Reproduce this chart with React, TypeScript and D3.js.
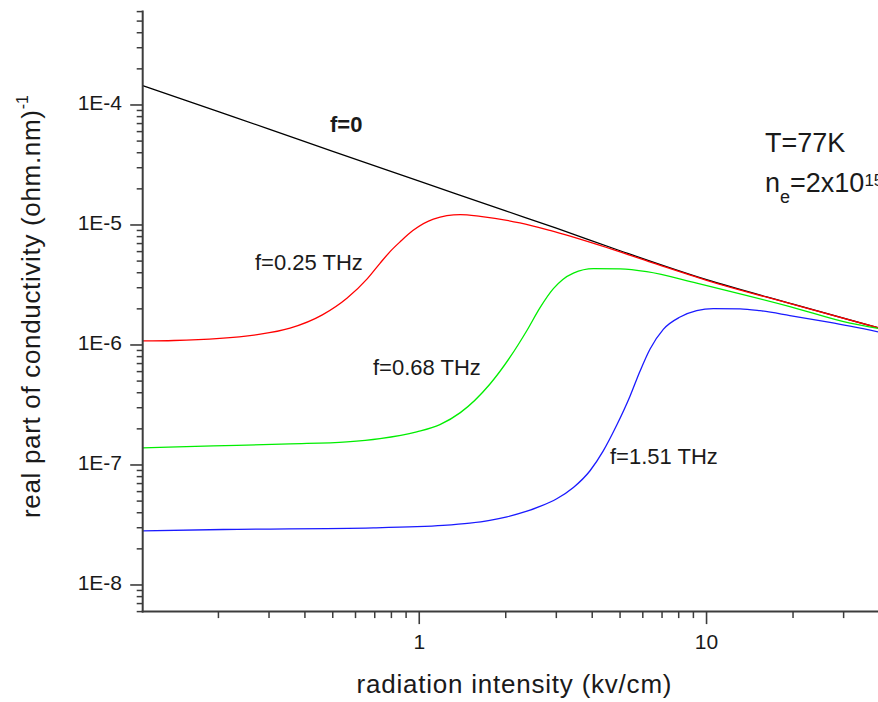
import React from "react";
import * as d3 from "d3";

// ---- data ----
const xF0 = [0.109, 0.2, 0.3, 0.5, 1, 2, 3, 5, 10, 20, 40];
const yF0 = [1.45e-4, 8.8e-5, 6.3e-5, 4.1e-5, 2.32e-5, 1.31e-5, 9.4e-6, 6.1e-6, 3.5e-6, 2.19e-6, 1.38e-6];

const xF025 = [0.109, 0.14, 0.28, 0.355, 0.46, 0.56, 0.66, 0.73, 0.79, 0.86, 0.95, 1.12, 1.39, 1.63, 2.24, 2.85, 4.26, 6.5, 10, 20, 40];
const yF025 = [1.08e-6, 1.09e-6, 1.23e-6, 1.38e-6, 1.78e-6, 2.45e-6, 3.57e-6, 4.79e-6, 5.97e-6, 7.28e-6, 8.98e-6, 1.12e-5, 1.22e-5, 1.18e-5, 1.04e-5, 9.0e-6, 6.75e-6, 4.83e-6, 3.46e-6, 2.18e-6, 1.38e-6];

const xF068 = [0.109, 0.192, 0.355, 0.56, 0.73, 0.98, 1.18, 1.39, 1.76, 2.07, 2.37, 2.63, 2.93, 3.16, 3.44, 4.04, 5.0, 6.19, 9.24, 12.07, 19.5, 31.6, 40];
const yF068 = [1.39e-7, 1.44e-7, 1.5e-7, 1.56e-7, 1.66e-7, 1.89e-7, 2.17e-7, 2.73e-7, 4.71e-7, 7.91e-7, 1.32e-6, 2.04e-6, 2.95e-6, 3.52e-6, 3.97e-6, 4.33e-6, 4.3e-6, 4.08e-6, 3.27e-6, 2.8e-6, 2.09e-6, 1.52e-6, 1.37e-6];

const xF151 = [0.109, 0.208, 0.692, 0.98, 1.21, 1.5, 1.76, 2.02, 2.37, 2.63, 3.01, 3.44, 3.93, 4.37, 4.87, 5.41, 5.86, 6.36, 7.07, 8.09, 9.24, 10.56, 13.08, 15.35, 19.5, 26.9, 40];
const yF151 = [2.82e-8, 2.9e-8, 2.99e-8, 3.06e-8, 3.14e-8, 3.28e-8, 3.46e-8, 3.7e-8, 4.12e-8, 4.51e-8, 5.23e-8, 6.49e-8, 8.95e-8, 1.31e-7, 2.15e-7, 3.72e-7, 6.01e-7, 9.26e-7, 1.35e-6, 1.71e-6, 1.93e-6, 2.01e-6, 2.0e-6, 1.93e-6, 1.76e-6, 1.54e-6, 1.28e-6];

const seriesNames = ["f=0", "f=0.25 THz", "f=0.68 THz", "f=1.51 THz"];
const seriesColors = ["#000000", "#ff0000", "#00ee00", "#1a1aff"];

const yMajorTicks = [1e-8, 1e-7, 1e-6, 1e-5, 1e-4];
const yTickLabels = ["1E-8", "1E-7", "1E-6", "1E-5", "1E-4"];
const xMajorTicks = [1, 10];
const xTickLabels = ["1", "10"];

const FONT = "'Liberation Sans', Arial, Helvetica, sans-serif";

export default function App() {
  const W = 878;
  const H = 702;
  const left = 142.7;
  const top = 11.6;
  const bottom = 611.6;
  const decX = 287.3;
  const xDomain: [number, number] = [0.109, 40];
  const x = d3
    .scaleLog()
    .domain(xDomain)
    .range([left, left + decX * Math.log10(xDomain[1] / xDomain[0])]);
  const y = d3.scaleLog().domain([6e-9, 6e-4]).range([bottom, top]);

  const yMinor: number[] = [];
  for (let e = -9; e <= -4; e++) {
    for (let m = 2; m <= 9; m++) {
      const v = m * Math.pow(10, e);
      if (v >= 5.99e-9 && v <= 6.01e-4) yMinor.push(v);
    }
  }
  const xMinor: number[] = [];
  for (let e = -1; e <= 1; e++) {
    for (let m = 2; m <= 9; m++) {
      const v = m * Math.pow(10, e);
      if (v >= xDomain[0] && x(v) <= W) xMinor.push(v);
    }
  }

  const line = d3
    .line<[number, number]>()
    .x((d) => x(d[0]))
    .y((d) => y(d[1]))
    .curve(d3.curveMonotoneX);

  const series = [
    [xF0, yF0],
    [xF025, yF025],
    [xF068, yF068],
    [xF151, yF151],
  ].map(([xs, ys]) => xs.map((v, i) => [v, ys[i]] as [number, number]));

  const axisColor = "#3c3c3c";
  const textColor = "#1a1a1a";

  return (
    <svg
      width={W}
      height={H}
      style={{ position: "absolute", left: 0, top: 0, background: "#fff" }}
      fontFamily={FONT}
    >
      <defs>
        <clipPath id="plotClip">
          <rect x={left} y={0} width={W - left} height={bottom} />
        </clipPath>
      </defs>
      <rect x={0} y={0} width={W} height={H} fill="#fff" />

      {/* curves */}
      <g clipPath="url(#plotClip)" fill="none" strokeWidth={1.3}>
        {series.map((pts, i) => (
          <path key={seriesNames[i]} d={line(pts) || ""} stroke={seriesColors[i]} />
        ))}
      </g>

      {/* Y axis */}
      <line x1={left} x2={left} y1={top - 1} y2={bottom + 1} stroke={axisColor} strokeWidth={2} />
      {yMajorTicks.map((t, i) => (
        <g key={"ym" + i}>
          <line x1={left - 12.5} x2={left} y1={y(t)} y2={y(t)} stroke={axisColor} strokeWidth={1.6} />
          <text x={122} y={y(t) + 5.5} textAnchor="end" fontSize={21} fill={textColor}>
            {yTickLabels[i]}
          </text>
        </g>
      ))}
      {yMinor.map((t, i) => (
        <line key={"yn" + i} x1={left - 6} x2={left} y1={y(t)} y2={y(t)} stroke={axisColor} strokeWidth={1.5} />
      ))}

      {/* X axis */}
      <line x1={left - 1} x2={W} y1={bottom} y2={bottom} stroke={axisColor} strokeWidth={2} />
      {xMajorTicks.map((t, i) => (
        <g key={"xm" + i}>
          <line x1={x(t)} x2={x(t)} y1={bottom} y2={bottom + 12.5} stroke={axisColor} strokeWidth={1.6} />
          <text x={x(t)} y={648.5} textAnchor="middle" fontSize={21} fill={textColor}>
            {xTickLabels[i]}
          </text>
        </g>
      ))}
      {xMinor.map((t, i) => (
        <line key={"xn" + i} x1={x(t)} x2={x(t)} y1={bottom} y2={bottom + 6.5} stroke={axisColor} strokeWidth={1.5} />
      ))}

      {/* axis titles */}
      <text x={514} y={693} textAnchor="middle" fontSize={26} fill={textColor} textLength={315} lengthAdjust="spacing">
        radiation intensity (kv/cm)
      </text>
      <g transform="translate(40,518) rotate(-90)">
        <text x={0} y={0} fontSize={26} fill={textColor}>
          <tspan textLength={408} lengthAdjust="spacing">real part of conductivity (ohm.nm)</tspan>
          <tspan dy={-12} fontSize={16}>-1</tspan>
        </text>
      </g>

      {/* series labels */}
      <text x={330} y={131.5} fontSize={22} fontWeight="bold" fill={textColor}>
        {seriesNames[0]}
      </text>
      <text x={255} y={270} fontSize={22} fill={textColor}>
        {seriesNames[1]}
      </text>
      <text x={373} y={375} fontSize={22} fill={textColor}>
        {seriesNames[2]}
      </text>
      <text x={610} y={463.5} fontSize={22} fill={textColor}>
        {seriesNames[3]}
      </text>

      {/* annotations (the reference crops the exponent at the right edge) */}
      <text x={765} y={152} fontSize={27} fill={textColor}>
        T=77K
      </text>
      <text x={765} y={192} fontSize={27} fill={textColor}>
        n
        <tspan dy={11} fontSize={18}>e</tspan>
        <tspan dy={-11} fontSize={27}>=2x10</tspan>
        <tspan dy={-6} fontSize={17}>15</tspan>
      </text>
    </svg>
  );
}
